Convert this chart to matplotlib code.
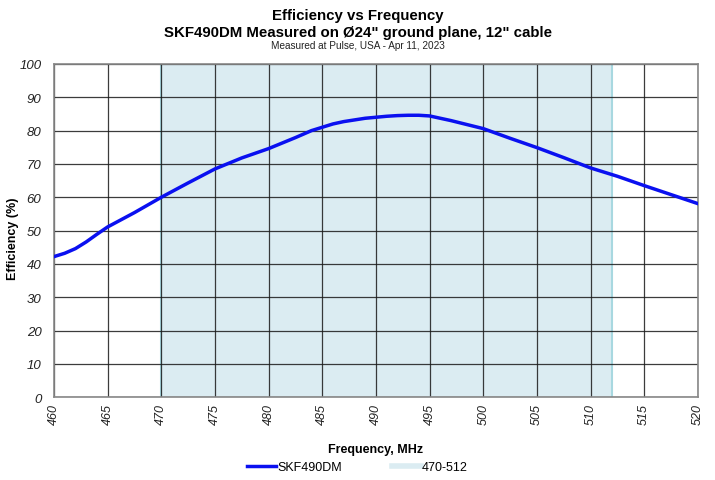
import numpy as np
import matplotlib
matplotlib.use('Agg')
import matplotlib.pyplot as plt
from matplotlib.lines import Line2D

plt.rcParams['font.family'] = ['Liberation Sans', 'DejaVu Sans']

# Data
FREQ_MHZ = [460, 461, 462, 463, 464, 465, 467.5, 470, 472.5, 475, 477.5, 480,
            482.5, 484, 485, 486, 487, 488, 489, 490, 491, 492, 493, 494, 495,
            496, 497, 498, 499, 500, 502.5, 505, 507.5, 510, 512.5, 515, 517.5, 520]
EFFICIENCY = [42.2, 43.2, 44.6, 46.6, 48.9, 51.1, 55.4, 60.0, 64.3, 68.5, 71.8, 74.6,
              77.9, 80.0, 81.0, 82.0, 82.7, 83.2, 83.7, 84.0, 84.3, 84.5, 84.6, 84.6, 84.4,
              83.7, 83.0, 82.2, 81.4, 80.6, 77.7, 74.9, 71.9, 68.8, 66.3, 63.5, 60.8, 58.1]
BAND = (470, 512)
SERIES_NAME = 'SKF490DM'
BAND_NAME = '470-512'
X_TICKS = list(range(460, 521, 5))
Y_TICKS = list(range(0, 101, 10))

fig = plt.figure(figsize=(7.15, 4.81), dpi=100)
ax = fig.add_axes([0.0755, 0.172, 0.9005, 0.693])

ax.axvspan(BAND[0], BAND[1], facecolor='#dbecf2', edgecolor='none', zorder=0)
ax.axvline(BAND[0], color='#a8d8e0', lw=1.5, zorder=0.5)
ax.axvline(BAND[1], color='#a8d8e0', lw=1.5, zorder=0.5)

ax.plot(FREQ_MHZ, EFFICIENCY, color='#0a10f0', lw=2.5, zorder=3,
        solid_joinstyle='round')

ax.set_xlim(460, 520)
ax.set_ylim(0, 100)
ax.set_xticks(X_TICKS)
ax.set_yticks(Y_TICKS)
ax.grid(True, color='#1a1a1a', lw=0.9, alpha=0.85, zorder=1)
ax.set_axisbelow(True)
ax.tick_params(length=0, pad=4)
for lbl in ax.get_xticklabels():
    lbl.set_rotation(90)
    lbl.set_fontstyle('italic')
    lbl.set_fontsize(9)
    lbl.set_color('#222222')
for lbl in ax.get_yticklabels():
    lbl.set_fontstyle('italic')
    lbl.set_fontsize(9.5)
    lbl.set_color('#222222')
ax.tick_params(axis='y', pad=9)
for sp in ax.spines.values():
    sp.set_color('#888888')
    sp.set_linewidth(1.2)

ax.set_xlabel('Frequency, MHz', fontsize=9, fontweight='bold', labelpad=14)
ax.set_ylabel('Efficiency (%)', fontsize=9, fontweight='bold')
ax.yaxis.set_label_coords(-0.055, 0.48)

fig.text(0.5, 0.966, 'Efficiency vs Frequency', ha='center', va='center',
         fontsize=10.8, fontweight='bold')
fig.text(0.5, 0.932, 'SKF490DM Measured on \u00d824" ground plane, 12" cable',
         ha='center', va='center', fontsize=10.8, fontweight='bold')
fig.text(0.5, 0.905, 'Measured at Pulse, USA - Apr 11, 2023', ha='center',
         va='center', fontsize=7.2, color='#222222')

handles = [Line2D([0], [0], color='#0a10f0', lw=2.5),
           Line2D([0], [0], color='#dbecf2', lw=4)]
fig.legend(handles, [SERIES_NAME, BAND_NAME], loc='center',
           bbox_to_anchor=(0.5, 0.027), ncol=2, frameon=False, fontsize=9,
           handlelength=2.3, handletextpad=0.1, columnspacing=4)

fig.savefig('out.png', dpi=100)
